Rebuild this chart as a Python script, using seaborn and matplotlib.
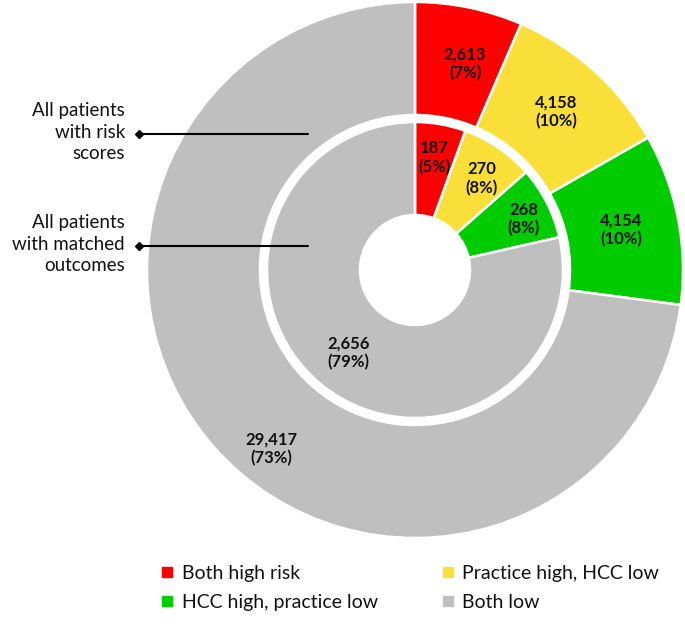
import numpy as np
import matplotlib
matplotlib.use("Agg")
import matplotlib.pyplot as plt
from matplotlib.lines import Line2D
import seaborn as sns

categories = ["Both high risk", "Practice high, HCC low", "HCC high, practice low", "Both low"]
outer_values = [2613, 4158, 4154, 29417]   # all patients with risk scores
inner_values = [187, 270, 268, 2656]       # all patients with matched outcomes
outer_pct = ["7%", "10%", "10%", "73%"]
inner_pct = ["5%", "8%", "8%", "79%"]
colors = ["#FF0000", "#F9DF38", "#00CC00", "#BFBFBF"]

sns.set_theme(style="white")
plt.rcParams["font.family"] = ["Lato", "DejaVu Sans"]

fig = plt.figure(figsize=(6.85, 6.26), dpi=100)
ax = fig.add_axes([0, 0, 1, 1])

# work in pixel-like units, y pointing up
cx, cy = 415, 626 - 270
r_out, r_out_in = 268, 155
r_in, r_hole = 148, 55

wp = dict(edgecolor="white", linewidth=1.8)
ax.pie(outer_values, radius=r_out, center=(cx, cy), colors=colors, startangle=90,
       counterclock=False, wedgeprops=dict(width=r_out - r_out_in, **wp))
ax.pie(inner_values, radius=r_in, center=(cx, cy), colors=colors, startangle=90,
       counterclock=False, wedgeprops=dict(width=r_in - r_hole, **wp))


def add_labels(values, pcts, radii, nudges):
    vals = np.asarray(values, dtype=float)
    mids = (np.cumsum(vals) - vals / 2) / vals.sum() * 360
    for v, p, m, r, d in zip(values, pcts, mids, radii, nudges):
        a = np.deg2rad(m + d)
        x = cx + r * np.sin(a)
        y = cy + r * np.cos(a)
        ax.text(x, y, f"{v:,}\n({p})", ha="center", va="center", fontsize=12,
                fontweight="bold", color="#111111", linespacing=1.2)


add_labels(outer_values, outer_pct, [212, 212, 210, 229], [2, 0, 0, -10])
add_labels(inner_values, inner_pct, [114, 113, 120, 106], [0, 2, 2, 0])

# callouts on the left
for label, ytop in [("All patients\nwith risk\nscores", 134), ("All patients\nwith matched\noutcomes", 246)]:
    y = 626 - ytop
    ax.plot([139, 308], [y, y], color="black", lw=1.5)
    ax.plot([139], [y], marker="D", color="black", markersize=4.5)
    ax.text(125, y + 2, label, ha="right", va="center", fontsize=13.5,
            color="#111111", linespacing=1.3)

ax.set_xlim(0, 685)
ax.set_ylim(0, 626)
ax.set_aspect("equal")
ax.axis("off")

handles = [Line2D([], [], marker="s", linestyle="", markersize=7,
                  markerfacecolor=c, markeredgecolor=c) for c in colors]
order = [0, 2, 1, 3]
fig.legend([handles[i] for i in order], [categories[i] for i in order], ncol=2,
           loc="upper left", bbox_to_anchor=(0.21, 0.125), frameon=False,
           fontsize=14, handlelength=0.6, handletextpad=0.45,
           columnspacing=3.3, labelspacing=0.6, labelcolor="#111111")

fig.savefig("out.png", dpi=100)
